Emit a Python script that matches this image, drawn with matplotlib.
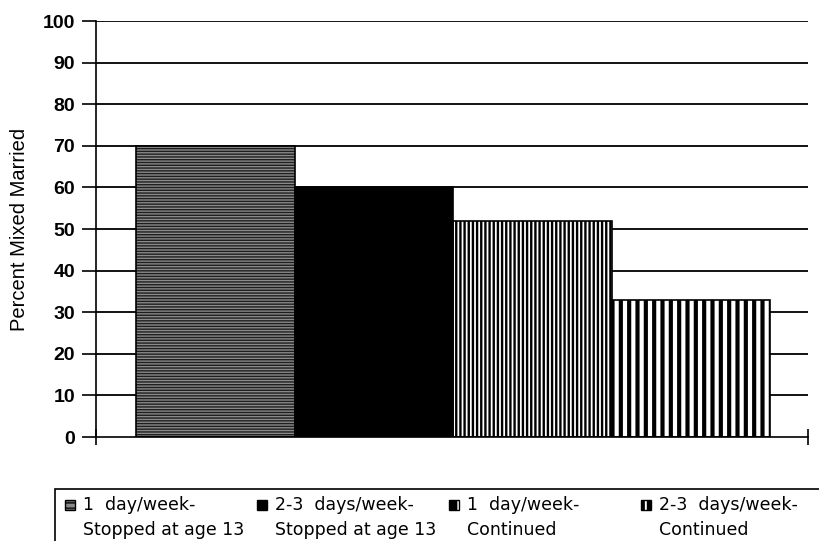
import numpy as np
import matplotlib.pyplot as plt
from matplotlib.patches import Rectangle

# Valores
groups = ["1  day/week-\nStopped at age 13", "2-3  days/week-\nStopped at age 13",
          "1  day/week-\nContinued", "2-3  days/week-\nContinued"]
percent = [70, 60, 52, 33]
yticks = list(range(0, 101, 10))

faces = ['#8a8a8a', 'black', 'white', 'white']
hatches = ['------', '', '||||', '||']
hatch_cols = ['#1e1e1e', 'black', 'black', 'black']
hatch_lw = [1.0, 1.0, 1.7, 3.0]
# ícones da legenda
icon_faces = ['#8a8a8a', 'black', 'black', 'black']
icon_hatch = ['---', '', '|', '||']
icon_hcols = ['#1e1e1e', 'black', 'white', 'white']

plt.rcParams['font.family'] = ['Liberation Sans', 'DejaVu Sans']

fig = plt.figure(figsize=(8.2, 5.41), dpi=100)
ax = fig.add_axes([96 / 820, 1 - 437 / 541, 712 / 820, 416 / 541])

for v in yticks[1:]:
    ax.axhline(v, color='black', lw=1.3, zorder=1)

x = 0.252 + np.arange(len(percent))
for i in range(len(percent)):
    with plt.rc_context({'hatch.linewidth': hatch_lw[i]}):
        ax.bar(x[i], percent[i], width=1, align='edge', color=faces[i],
               hatch=hatches[i], edgecolor=hatch_cols[i], linewidth=0, zorder=2)
    ax.bar(x[i], percent[i], width=1, align='edge', fill=False,
           edgecolor='black', linewidth=1.2, zorder=3)

ax.set_xlim(0, 4.49)
ax.set_ylim(0, 100)
ax.set_yticks(yticks)
ax.set_yticklabels([str(t) for t in yticks], fontsize=14, fontweight='bold')
ax.set_xticks([0, 4.49])
ax.set_xticklabels(['', ''])
ax.tick_params(axis='y', direction='out', length=10, width=1.2, color='black', pad=5)
ax.tick_params(axis='x', direction='inout', length=11, width=1.2)
for s in ['top', 'right']:
    ax.spines[s].set_visible(False)
ax.spines['left'].set_linewidth(1.2)
ax.spines['bottom'].set_linewidth(1.2)
ax.set_ylabel('Percent Mixed Married', fontsize=14.5, labelpad=10)

# Legenda (caixa cortada na borda como no original)
fig.add_artist(Rectangle((55 / 820, -0.2), 2, 0.2 + 1 - 489 / 541, transform=fig.transFigure,
                         fill=False, edgecolor='black', lw=1.2))
for i in range(len(groups)):
    x0 = (65 + 192 * i) / 820
    with plt.rc_context({'hatch.linewidth': 1.4}):
        fig.add_artist(Rectangle((x0, 1 - 510 / 541), 10 / 820, 10 / 541,
                                 transform=fig.transFigure, facecolor=icon_faces[i],
                                 hatch=icon_hatch[i], edgecolor=icon_hcols[i], lw=0))
    fig.add_artist(Rectangle((x0, 1 - 510 / 541), 10 / 820, 10 / 541,
                             transform=fig.transFigure, fill=False,
                             edgecolor='black', lw=1.0))
    fig.text(x0 + 18 / 820, 1 - 496 / 541, groups[i], ha='left', va='top',
             fontsize=12.5, family='DejaVu Sans', linespacing=1.5,
             transform=fig.transFigure)

fig.savefig('out.png', dpi=100)
